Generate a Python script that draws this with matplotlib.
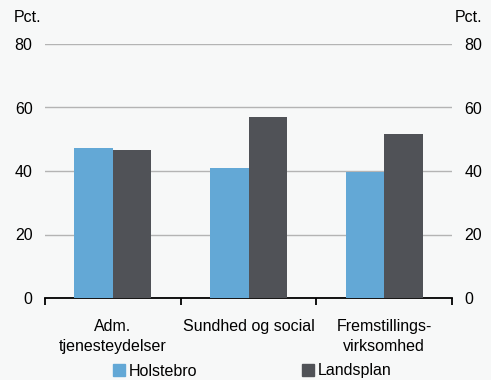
import matplotlib.pyplot as plt
import numpy as np
from matplotlib.patches import Patch

plt.rcParams["font.family"] = ["Liberation Sans", "DejaVu Sans"]

categories = ["Adm.\ntjenesteydelser", "Sundhed og social", "Fremstillings-\nvirksomhed"]
holstebro = [47.2, 41.1, 39.8]
landsplan = [46.6, 56.9, 51.7]
yticks = [0, 20, 40, 60, 80]

BG = "#f7f8f8"
BLUE = "#63a8d6"
DARK = "#505257"
FS = 11.5

fig = plt.figure(figsize=(4.91, 3.80), dpi=100, facecolor=BG)
ax = fig.add_axes([45 / 491, 1 - 298 / 380, (452 - 45) / 491, (298 - 44) / 380], facecolor=BG)

x = np.arange(len(categories))
w = 0.284
ax.bar(x - w / 2, holstebro, w, color=BLUE, zorder=3)
ax.bar(x + w / 2, landsplan, w, color=DARK, zorder=3)

ax.set_xlim(-0.5, 2.5)
ax.set_ylim(0, 80)
ax.set_yticks(yticks)
ax.grid(axis="y", color="#b4b4b4", linewidth=1.0, zorder=0)
ax.tick_params(axis="y", length=0, pad=9, labelsize=FS, labelright=True, right=False)
for s in ["top", "left", "right"]:
    ax.spines[s].set_visible(False)
ax.spines["bottom"].set_color("black")
ax.spines["bottom"].set_linewidth(1.3)

ax.set_xticks([-0.5, 0.5, 1.5, 2.5])
ax.set_xticklabels([])
ax.tick_params(axis="x", length=5, width=1.3, direction="out")
for xi, lab in zip(x, categories):
    ax.text(xi, -6.6, lab, ha="center", va="top", fontsize=FS, linespacing=1.4)

fig.text(14 / 491, 1 - 18 / 380, "Pct.", fontsize=FS, va="center", ha="left")
fig.text(455 / 491, 1 - 18 / 380, "Pct.", fontsize=FS, va="center", ha="left")

handles = [Patch(color=BLUE), Patch(color=DARK)]
fig.legend(handles, ["Holstebro", "Landsplan"], loc="center", bbox_to_anchor=(0.514, 1 - 371 / 380),
           ncol=2, frameon=False, fontsize=FS, handlelength=0.75, handleheight=0.75,
           handletextpad=0.2, columnspacing=6.6, borderpad=0)

fig.savefig("out.png", dpi=100, facecolor=BG)
